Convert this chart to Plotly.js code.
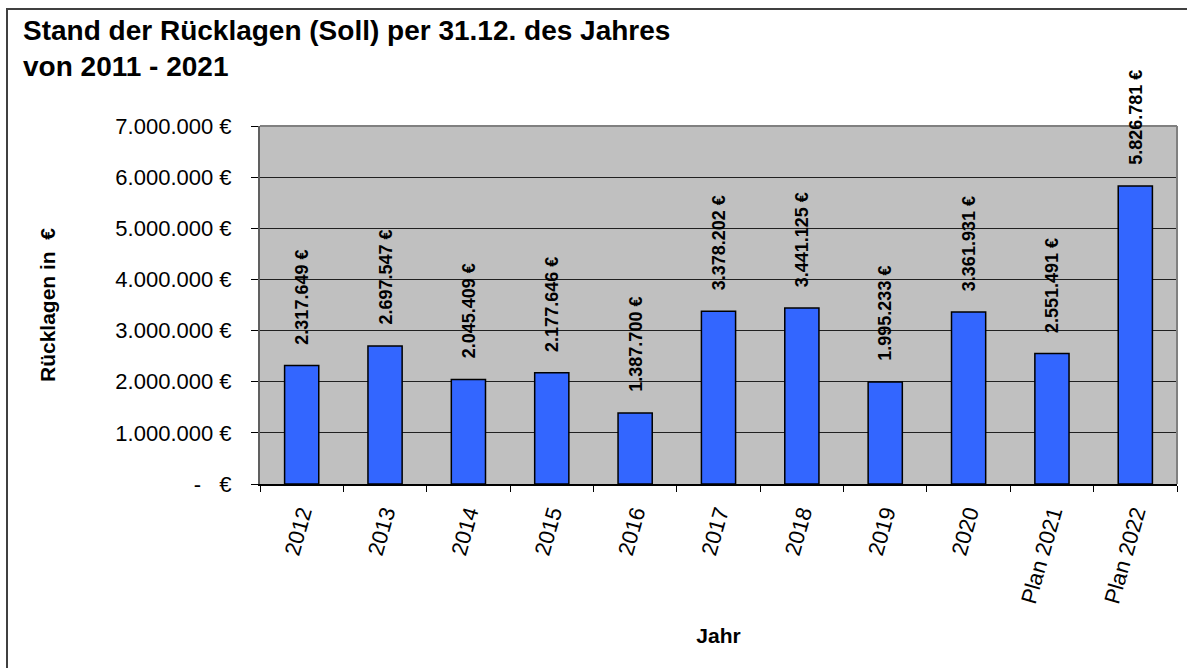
<!DOCTYPE html>
<html>
<head>
<meta charset="utf-8">
<script src="https://cdn.plot.ly/plotly-3.0.1.min.js"></script>
<style>
  html, body { margin: 0; padding: 0; background: #fff; }
  #wrap { position: relative; width: 1187px; height: 668px; overflow: hidden; }
  #chart { width: 1187px; height: 668px; }
  #frame { position: absolute; left: 6px; top: 8px; width: 1300px; height: 800px;
           border-left: 2px solid #404040; border-top: 2px solid #404040; pointer-events: none; }
</style>
</head>
<body>
<div id="wrap">
  <div id="chart"></div>
  <div id="frame"></div>
</div>
<script>
const categories = ["2012", "2013", "2014", "2015", "2016", "2017", "2018", "2019", "2020", "Plan 2021", "Plan 2022"];
const values = [2317649, 2697547, 2045409, 2177646, 1387700, 3378202, 3441125, 1995233, 3361931, 2551491, 5826781];
const valueLabels = ["2.317.649 €", "2.697.547 €", "2.045.409 €", "2.177.646 €", "1.387.700 €", "3.378.202 €", "3.441.125 €", "1.995.233 €", "3.361.931 €", "2.551.491 €", "5.826.781 €"];
const yTickVals = [0, 1000000, 2000000, 3000000, 4000000, 5000000, 6000000, 7000000];
const yTickText = ["-\u00A0\u00A0\u00A0€", "1.000.000 €", "2.000.000 €", "3.000.000 €", "4.000.000 €", "5.000.000 €", "6.000.000 €", "7.000.000 €"];

const FONT = "Liberation Sans, Arial, sans-serif";

const trace = {
  type: "bar",
  x: categories,
  y: values,
  width: 0.41,
  marker: { color: "#3366FF", line: { color: "#000000", width: 1.5 } },
  hoverinfo: "skip"
};

const annotations = categories.map((c, i) => ({
  x: i, y: values[i], xref: "x", yref: "y",
  text: valueLabels[i],
  textangle: -90,
  showarrow: false,
  xanchor: "center", yanchor: "bottom",
  yshift: 19,
  font: { family: FONT, size: 18, color: "#000", weight: "bold" }
}));

const layout = {
  width: 1187, height: 668,
  paper_bgcolor: "rgba(0,0,0,0)",
  plot_bgcolor: "#C0C0C0",
  margin: { l: 260, r: 10, t: 126, b: 184 },
  showlegend: false,
  font: { family: FONT, color: "#000" },
  title: {
    text: "<b>Stand der Rücklagen (Soll) per 31.12. des Jahres<br>von 2011 - 2021</b>",
    xref: "container", yref: "container",
    x: 23 / 1187, xanchor: "left",
    y: 1 - 40 / 668, yanchor: "top",
    font: { family: FONT, size: 28, color: "#000" }
  },
  xaxis: {
    type: "category",
    categoryarray: categories,
    range: [-0.5, categories.length - 0.5],
    autorange: false,
    tickangle: -74,
    tickfont: { family: FONT, size: 22, color: "#000" },
    ticks: "outside", ticklen: 6, tickcolor: "#000", tickwidth: 1,
    tickson: "boundaries",
    showline: true, linecolor: "#000", linewidth: 1.5,
    showgrid: false,
    ticklabelstandoff: 6,
    title: { text: "<b>Jahr</b>", font: { family: FONT, size: 21, color: "#000" }, standoff: 22 }
  },
  yaxis: {
    range: [0, 7000000],
    autorange: false,
    tickvals: yTickVals,
    ticktext: yTickText,
    tickfont: { family: FONT, size: 22, color: "#000" },
    ticks: "outside", ticklen: 7, tickcolor: "#000", tickwidth: 1,
    showline: true, linecolor: "#606060", linewidth: 2,
    showgrid: true, gridcolor: "#202020", gridwidth: 1,
    zeroline: false,
    ticklabelstandoff: 15,
    title: { text: "<b>Rücklagen in\u00A0 €</b>", font: { family: FONT, size: 21, color: "#000" }, standoff: 54 }
  },
  shapes: [
    { type: "line", xref: "paper", yref: "paper", x0: 0, x1: 1, y0: 1, y1: 1, line: { color: "#808080", width: 2 } },
    { type: "line", xref: "paper", yref: "paper", x0: 1, x1: 1, y0: 0, y1: 1, line: { color: "#808080", width: 2 } }
  ],
  annotations: annotations
};

Plotly.newPlot("chart", [trace], layout, { displayModeBar: false, staticPlot: true });
</script>
</body>
</html>
